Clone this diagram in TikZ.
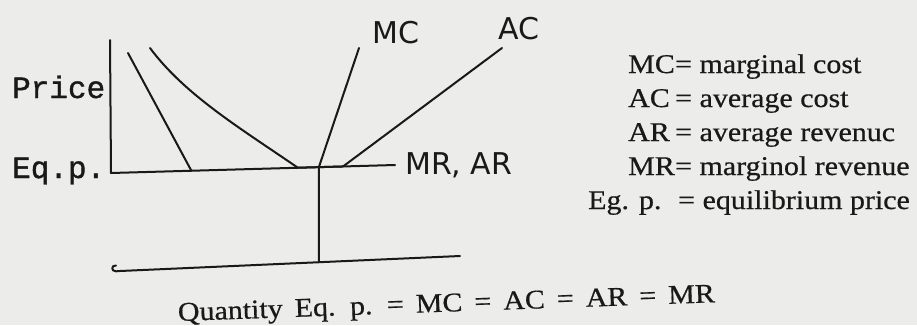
\documentclass[tikz,border=0pt]{standalone}
\usepackage{fontspec}
\setmainfont{Liberation Serif}
\newfontfamily\legendfont[FakeStretch=1.11,FakeBold=0.6]{Liberation Serif}
\newfontfamily\typefont[FakeBold=1.2]{Liberation Mono}
\newfontfamily\handfont{DejaVu Sans}
\usetikzlibrary{calc}
\definecolor{paper}{RGB}{236,236,235}
\definecolor{ink}{RGB}{25,25,25}

\begin{document}
\begin{tikzpicture}[
  x=1pt, y=-1pt,
  curve/.style={draw=ink, line width=2pt, line cap=round, line join=round},
  typed/.style={font=\typefont\fontsize{31}{31}\selectfont, text=ink, inner sep=0pt, anchor=base west},
  hand/.style={font=\handfont\fontsize{30}{30}\selectfont, text=ink, inner sep=0pt},
  legend/.style={font=\legendfont\fontsize{27}{27}\selectfont, text=ink, inner sep=0pt, anchor=base west}
]
\useasboundingbox (0,0) rectangle (917,325);
\fill[paper] (0,0) rectangle (917,325);

% axes
\node[typed] (price) at (12,98) {Price};
\node[typed] (eqp) at (12,178) {Eq.p.};
\coordinate (ytop) at (110,40);
\coordinate (o) at (111,173);
\coordinate (eqend) at (395,165);
\coordinate (xl) at (120,271);
\coordinate (xr) at (460,256);
\coordinate (e) at ($(o)!0.732!(eqend)$);
\coordinate (q) at ($(xl)!0.585!(xr)$);

\draw[curve] (ytop) -- (o) -- (eqend);
\draw[curve] (116,265.5) .. controls (111,265) and (111,271.5) .. (116,271.3) -- (xl) -- (xr);
\draw[curve] (e) -- (q);

% curves
\coordinate (arbot) at ($(o)!0.283!(eqend)$);
\coordinate (acl) at ($(o)!0.658!(eqend)$);
\coordinate (acr) at ($(o)!0.817!(eqend)$);
\draw[curve] (128,53) -- (arbot);
\draw[curve] (150,48) .. controls (185,95) and (240,128) .. (acl) -- (acr) -- (502,48);
\draw[curve] (e) -- (359,48);

\node[hand] (mc) at (396,33) {MC};
\node[hand] (ac) at (519,29) {AC};
\node[hand, anchor=base west] (mrar) at (405,174) {MR, AR};

% legend
\foreach \abbr/\full/\yy [count=\i] in {MC/marginal cost/73, AC/average cost/107, AR/average revenuc/141, MR/marginol revenue/175}{
  \node[legend] (key\i) at (628,\yy) {\abbr};
  \node[legend] (def\i) at (675,\yy) {= \full};
}
\node[legend] (key5) at (588,209) {Eg. p.};
\node[legend] (def5) at (678,209) {= equilibrium price};

\node[legend, rotate=2] (qty) at (178,321) {\spaceskip=12pt Quantity Eq. p. = MC = AC = AR = MR};
\end{tikzpicture}
\end{document}
